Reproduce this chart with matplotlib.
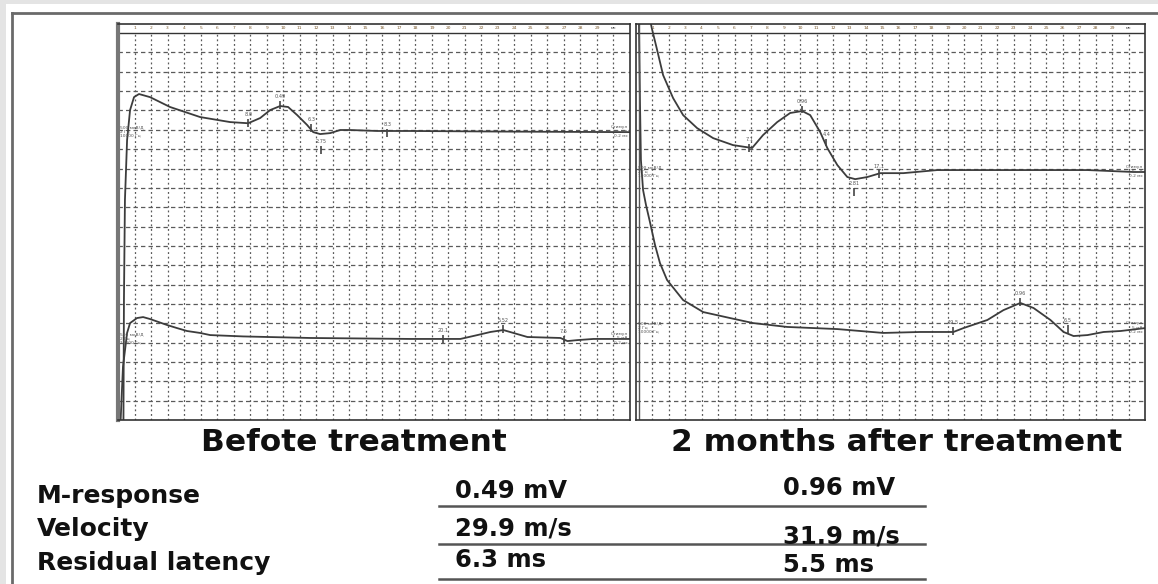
import matplotlib
matplotlib.use("Agg")
import matplotlib.pyplot as plt
from matplotlib.lines import Line2D
from matplotlib.patches import Rectangle

# ---- data: traces in (ms, grid divisions from the bottom) ----
before_top_x = [0.33, 0.36, 0.42, 0.55, 0.73, 0.97, 1.27, 1.94, 3.15, 4.97, 6.79, 7.88,
                8.61, 9.21, 9.82, 10.30, 10.85, 11.45, 11.82, 12.24, 12.85, 13.45, 14.06,
                15.70, 17.70, 23.15, 31.0]
before_top_y = [0.0, 6.20, 11.37, 14.47, 16.02, 16.69, 16.85, 16.69, 16.18, 15.66, 15.40, 15.34,
                15.61, 16.02, 16.23, 16.18, 15.76, 15.25, 14.88, 14.78, 14.83, 14.99, 14.99,
                14.94, 14.94, 14.91, 14.88]

before_low_x = [0.16, 0.30, 0.55, 0.73, 1.15, 1.52, 1.94, 2.97, 3.58, 4.18, 4.97, 5.58, 7.58,
                11.64, 17.70, 19.70, 20.73, 21.76, 22.55, 23.33, 23.94, 24.79, 26.79, 27.21,
                27.82, 28.79, 31.0]
before_low_y = [0.0, 2.74, 4.50, 5.01, 5.27, 5.32, 5.22, 4.91, 4.75, 4.60, 4.50, 4.39, 4.32,
                4.24, 4.19, 4.19, 4.19, 4.39, 4.55, 4.65, 4.50, 4.29, 4.24, 4.08,
                4.13, 4.19, 4.19]

after_top_x = [0.91, 0.96, 1.26, 1.65, 2.26, 2.87, 3.72, 4.70, 5.91, 7.07, 7.74, 8.60, 9.39,
               10.12, 10.61, 11.22, 11.65, 12.26, 12.87, 13.35, 14.09, 14.88, 16.28, 18.35,
               21.40, 27.50, 30.30, 31.0]
after_top_y = [20.47, 20.26, 19.22, 17.83, 16.64, 15.76, 15.09, 14.57, 14.21, 14.06, 14.73,
               15.40, 15.87, 15.97, 15.76, 14.88, 14.06, 13.18, 12.56, 12.45, 12.56, 12.76,
               12.76, 12.92, 12.92, 12.92, 12.82, 12.82]

after_low_x = [0.18, 0.24, 0.30, 0.43, 0.61, 0.85, 1.16, 1.46, 1.89, 2.87, 4.09, 5.73, 7.13,
               9.21, 12.26, 15.06, 17.32, 19.33, 19.94, 21.40, 22.38, 23.41, 24.21, 25.24,
               26.04, 26.65, 27.50, 28.48, 29.51, 31.0]
after_low_y = [20.47, 16.54, 13.44, 11.89, 11.11, 10.23, 9.04, 8.11, 7.24, 6.20, 5.58, 5.27,
               5.01, 4.81, 4.70, 4.50, 4.55, 4.55, 4.75, 5.17, 5.68, 6.05, 5.79, 5.17,
               4.55, 4.34, 4.39, 4.55, 4.60, 4.75]

# marker labels on the traces: (ms, divisions, text)
before_marks = [(7.9, 15.6, "8.0"), (9.8, 16.55, "0.49"), (11.7, 15.35, "6.3"),
                (12.3, 14.2, "2.75"), (16.3, 15.1, "8.3"),
                (19.7, 4.45, "20.1"), (23.3, 4.95, "5.52"), (27.0, 4.4, "7.5")]
after_marks = [(6.9, 14.3, "7.1"), (10.1, 16.3, "0.96"), (11.6, 14.6, "4.4"),
               (13.3, 12.05, "2.81"), (14.8, 12.95, "17.1"),
               (19.3, 4.85, "19.5"), (23.4, 6.35, "0.96"), (26.3, 4.95, "6.5")]

titles = ["Befote treatment", "2 months after treatment"]
row_labels = ["M-response", "Velocity", "Residual latency"]
before_values = ["0.49 mV", "29.9 m/s", "6.3 ms"]
after_values = ["0.96 mV", "31.9 m/s", "5.5 ms"]

W, H = 1158, 584
fig = plt.figure(figsize=(W / 100, H / 100), dpi=100)
fig.patch.set_facecolor("#e4e4e4")


def fx(px):
    return px / W


def fy(py):
    return 1 - py / H


# white card and its frame
fig.add_artist(Rectangle((fx(6), 0), 1, fy(4), transform=fig.transFigure,
                         facecolor="white", edgecolor="none", zorder=0))
fig.add_artist(Line2D([fx(12), 1], [fy(13), fy(13)], transform=fig.transFigure,
                      color="#6a6a6a", lw=2))
fig.add_artist(Line2D([fx(12), fx(12)], [0, fy(13)], transform=fig.transFigure,
                      color="#6a6a6a", lw=2))


def draw_panel(ax, traces, marks):
    ax.set_xlim(0, 31)
    ax.set_ylim(0, 20.47)
    ax.set_xticks([])
    ax.set_yticks([])
    ax.set_facecolor("white")
    for s in ax.spines.values():
        s.set_color("#333333")
        s.set_linewidth(1.2)
    # dashed grid of the recorder
    ax.vlines(range(1, 31), 0, 20, colors="#5a5a5a", linestyles=(0, (1.5, 2.2)), lw=0.9)
    ax.hlines(range(1, 20), 0, 31, colors="#5a5a5a", linestyles=(0, (3.5, 2.5)), lw=0.9)
    ax.hlines(20, 0, 31, colors="#333333", lw=1.0)
    # ms scale strip
    for i in range(1, 30):
        ax.text(i, 20.24, str(i), fontsize=3.2, color="#7a5a30",
                ha="center", va="center")
    ax.text(30, 20.24, "мс", fontsize=3.2, color="#333333", ha="center", va="center")
    for xs, ys in traces:
        ax.plot(xs, ys, color="#3c3c3c", lw=1.3, solid_capstyle="round")
    for x, y, t in marks:
        ax.vlines(x, y - 0.45, y - 0.05, colors="#444444", lw=1.2)
        ax.text(x, y + 0.05, t, fontsize=3.6, color="#555555", ha="center", va="bottom")
    # amplifier settings at the left, stimulus info at the right
    for base in (traces[0][1][-1], traces[1][1][-1]):
        ax.text(0.15, base + 0.35, "500 мкВ/Д\n2 Гц\n10000 Гц", fontsize=3.2,
                color="#555555", ha="left", va="top", linespacing=1.1)
        ax.text(30.85, base + 0.35, "Стимул\n5 мА\n0.2 мс", fontsize=3.2,
                color="#555555", ha="right", va="top", linespacing=1.1)


ax1 = fig.add_axes([fx(118), fy(420), fx(512), 396 / H])
draw_panel(ax1, [(before_top_x, before_top_y), (before_low_x, before_low_y)], before_marks)
ax1.spines["left"].set_linewidth(3)
ax1.spines["left"].set_color("#777777")

ax2 = fig.add_axes([fx(636), fy(420), fx(509), 396 / H])
draw_panel(ax2, [(after_top_x, after_top_y), (after_low_x, after_low_y)], after_marks)
ax2.axvline(0.2, color="#555555", lw=1.0)

# headings under the panels
bold = dict(family="DejaVu Sans", fontweight="bold", color="#111111")
fig.text(fx(354), fy(451), titles[0], fontsize=22.5, ha="center", va="baseline", **bold)
fig.text(fx(897), fy(451), titles[1], fontsize=22.5, ha="center", va="baseline", **bold)

# results table
label_base = [503, 536, 570]
before_base = [498, 535, 567]
after_base = [495, 543, 572]
rule_y = [506, 544, 579]
for i in range(3):
    fig.text(fx(37), fy(label_base[i]), row_labels[i], fontsize=18,
             ha="left", va="baseline", **bold)
    fig.text(fx(455), fy(before_base[i]), before_values[i], fontsize=17.5,
             ha="left", va="baseline", **bold)
    fig.text(fx(783), fy(after_base[i]), after_values[i], fontsize=17.5,
             ha="left", va="baseline", **bold)
    fig.add_artist(Line2D([fx(439), fx(925)], [fy(rule_y[i]), fy(rule_y[i])],
                          transform=fig.transFigure, color="#555555", lw=1.8))

fig.savefig("out.png", dpi=100, facecolor=fig.get_facecolor())
